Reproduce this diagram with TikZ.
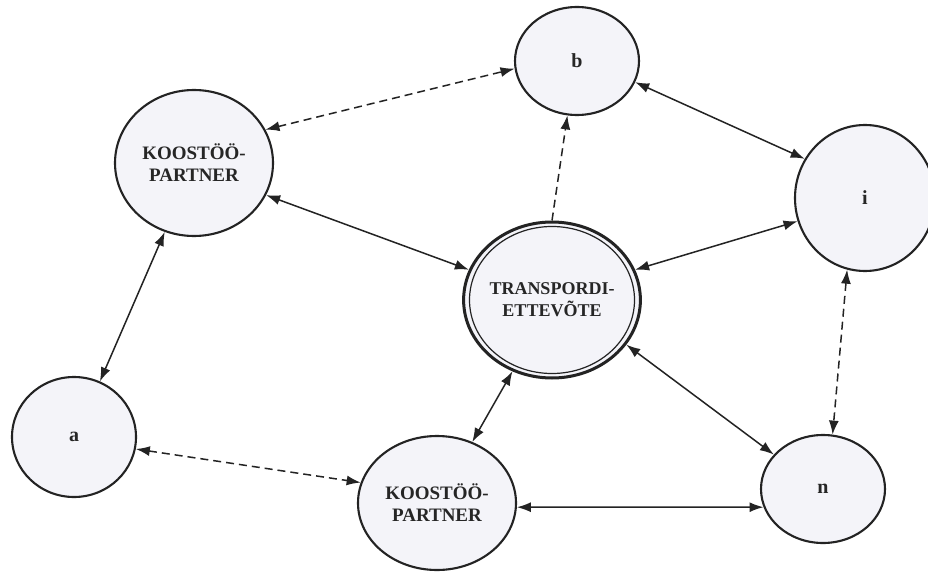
\documentclass[tikz,border=0pt]{standalone}
\usepackage{fontspec}
\setmainfont{Liberation Serif}
\usetikzlibrary{shapes.geometric,arrows.meta}
\definecolor{inkline}{HTML}{232323}
\definecolor{bubble}{HTML}{F4F4F9}
\definecolor{inktext}{HTML}{262626}
\begin{document}
\begin{tikzpicture}[x=1pt,y=-1pt,
  bubblenode/.style={ellipse, draw=inkline, line width=2.1pt, fill=bubble,
    inner sep=0pt, text=inktext, align=center,
    font=\bfseries\fontsize{19}{22}\selectfont},
  letternode/.style={bubblenode, font=\bfseries\fontsize{20}{22}\selectfont},
  link/.style={draw=inkline, line width=1.5pt,
    {Latex[length=14pt,width=10pt]}-{Latex[length=14pt,width=10pt]}},
  dashlink/.style={link, dash pattern=on 8pt off 5pt},
  onelink/.style={draw=inkline, line width=1.5pt, dash pattern=on 8pt off 5pt,
    -{Latex[length=14pt,width=10pt]}},
]
\useasboundingbox (0,0) rectangle (928,572);
\fill[white] (0,0) rectangle (928,572);

% partner bubbles and the central company
\node[bubblenode, minimum width=158, minimum height=146] (kp1) at (194,163) {KOOSTÖÖ-\\PARTNER};
\node[bubblenode, minimum width=158, minimum height=134] (kp2) at (437,503) {KOOSTÖÖ-\\PARTNER};
\node[bubblenode, line width=3pt, minimum width=174, minimum height=156,
      font=\bfseries\fontsize{18}{22}\selectfont] (tr) at (552,300) {TRANSPORDI-\\ETTEVÕTE};
\draw[inkline, line width=1.2pt] (tr.center) ellipse [x radius=82.5, y radius=73.5];

% other actors
\node[letternode, minimum width=124, minimum height=108] (b) at (577,61) {b};
\node[letternode, minimum width=140, minimum height=146] (i) at (865,198) {i};
\node[letternode, minimum width=124, minimum height=120] (a) at (74,437) {a};
\node[letternode, minimum width=124, minimum height=108] (n) at (823,489) {n};

% relations
\draw[dashlink] (kp1.25) -- (b.187);
\draw[onelink] (tr.90) -- (b.260);
\draw[link] (b.-20) -- (i.147);
\draw[link] (kp1.-24) -- (tr.160);
\draw[link] (i.199) -- (tr.20);
\draw[link] (kp1.247) -- (a.65);
\draw[dashlink] (i.256) -- (n.80);
\draw[dashlink] (a.-11) -- (kp2.165);
\draw[link] (kp2.60) -- (tr.241);
\draw[link] (tr.-31) -- (n.145);
\draw[link] (kp2.-3) -- (n.197);
\end{tikzpicture}
\end{document}
